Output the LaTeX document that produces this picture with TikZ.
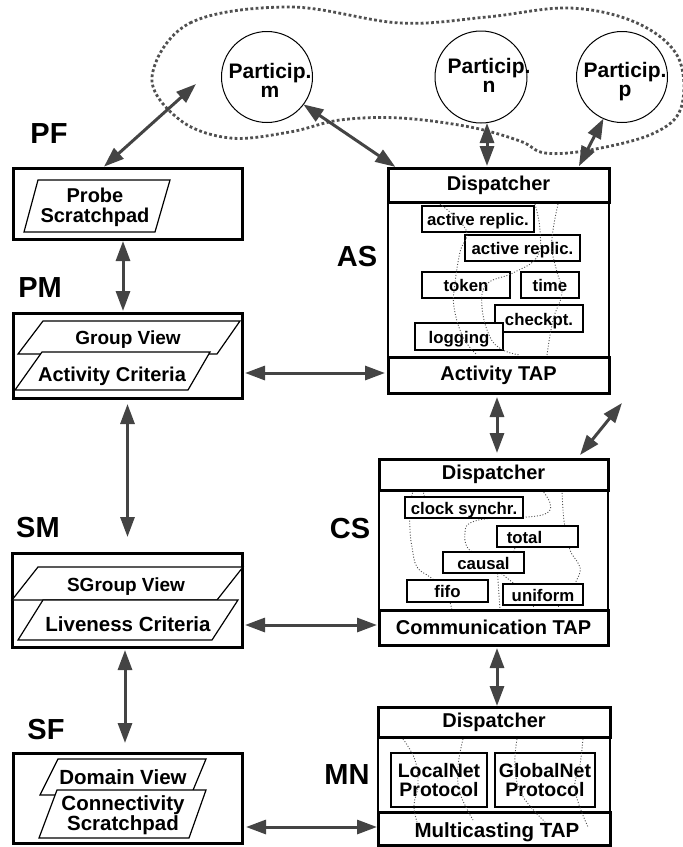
\documentclass[tikz,border=0pt]{standalone}
\usepackage{fontspec}
\setmainfont{Liberation Sans}
\usetikzlibrary{arrows.meta}
\definecolor{arrowgray}{HTML}{444444}
\definecolor{dotgray}{HTML}{505050}
\newcommand\fsz[2]{\fontsize{#1pt}{#2pt}\selectfont}

\begin{document}
\begin{tikzpicture}[x=1pt, y=-1pt,
  every node/.style={font=\bfseries, inner sep=0pt, outer sep=0pt},
  heavybox/.style={draw, rectangle, line width=3pt, fill=white, font=\bfseries\fsz{20}{20}},
  frame/.style={draw, rectangle, line width=1.2pt},
  cell/.style={draw, rectangle, line width=1.4pt, fill=white, font=\bfseries\fsz{16.8}{16.8}, text height=13.5pt, text depth=0pt},
  celltext/.style={font=\bfseries\fsz{16.8}{16.8}, text height=13.5pt, text depth=0pt},
  protobox/.style={draw, rectangle, line width=1.4pt, fill=white, align=center, font=\bfseries\fsz{19.5}{19}},
  member/.style={draw, circle, line width=1pt},
  membertext/.style={align=center, font=\bfseries\fsz{21}{21}},
  layerlabel/.style={font=\bfseries\fsz{29}{29}},
  sheet/.style={draw, line width=1.2pt, fill=white},
  dbl/.style={<->, >={Triangle[length=20pt,width=14pt]}, line width=3pt, draw=arrowgray},
  trail/.style={draw=dotgray, line width=0.9pt, dash pattern=on 1pt off 1.8pt},
  cloudline/.style={draw=dotgray, line width=2.8pt, dash pattern=on 2.8pt off 2.4pt},
]
\useasboundingbox (0,0) rectangle (683,847);

% group of participants
\draw[cloudline] plot[smooth cycle, tension=0.6] coordinates {
  (152,77) (190,23) (290,7) (400,23) (487,17) (570,8) (637,23) (678,57)
  (681,108) (652,134) (590,150) (545,153) (520,141) (470,127) (400,118)
  (340,120) (290,132) (230,138) (180,120)};

\node[member, minimum size=91pt] (cm) at (267,77) {};
\node[member, minimum size=92pt] (cn) at (481,77) {};
\node[member, minimum size=91pt] (cp) at (622,77) {};
\node[membertext] (cmt) at (270,80) {Particip.\\[-2pt]m};
\node[membertext] (cnt) at (489,75) {Particip.\\[-2pt]n};
\node[membertext] (cpt) at (625,82) {Particip.\\[-2pt]p};

% layer labels
\node[layerlabel] (lpf) at (49,134) {PF};
\node[layerlabel] (lpm) at (40,288) {PM};
\node[layerlabel] (lsm) at (38,528) {SM};
\node[layerlabel] (lsf) at (46,730) {SF};
\node[layerlabel] (las) at (357,257) {AS};
\node[layerlabel] (lcs) at (350,529) {CS};
\node[layerlabel] (lmn) at (347,775) {MN};

% left column
\node[heavybox, minimum width=229pt, minimum height=71pt] (pf) at (127.5,203.5) {};
\draw[sheet] (38,180) -- (170,180) -- (155,232) -- (24,232) -- cycle;
\node[align=center, font=\bfseries\fsz{20}{20}] (pft) at (95,207) {Probe\\Scratchpad};

\node[heavybox, minimum width=229pt, minimum height=85pt] (pm) at (127.5,355.5) {};
\draw[sheet] (43,321) -- (240,321) -- (217,354) -- (18,354) -- cycle;
\draw[sheet] (42,352) -- (210,352) -- (188,390) -- (15,390) -- cycle;
\node[font=\bfseries\fsz{19}{19}] (gvt) at (128,340) {Group View};
\node[font=\bfseries\fsz{20}{20}] (act) at (112,376.5) {Activity Criteria};

\node[heavybox, minimum width=230pt, minimum height=94pt] (sm) at (127,600) {};
\draw[sheet] (38,567) -- (243,567) -- (217,600) -- (12,600) -- cycle;
\draw[sheet] (43,600) -- (238,600) -- (212,640) -- (18,640) -- cycle;
\node[font=\bfseries\fsz{19}{19}] (sgvt) at (126,587) {SGroup View};
\node[font=\bfseries\fsz{20.5}{20.5}] (lct) at (128,624.5) {Liveness Criteria};

\node[heavybox, minimum width=229pt, minimum height=90pt] (sf) at (127.5,798) {};
\draw[sheet] (58,759) -- (206,759) -- (191,795) -- (40,795) -- cycle;
\draw[sheet] (57,790) -- (206,790) -- (189,838) -- (39,838) -- cycle;
\node[font=\bfseries\fsz{20.5}{20.5}] (dvt) at (123,777.5) {Domain View};
\node[align=center, font=\bfseries\fsz{20.5}{18}] (cst2) at (123,815.5) {Connectivity\\Scratchpad};

% AS block
\node[frame, minimum width=221pt, minimum height=155pt] (asb) at (498.5,279.5) {};
\node[cell, minimum width=112pt, minimum height=26pt] (ar1) at (478,219) {active replic.};
\node[cell, minimum width=115pt, minimum height=26pt] (ar2) at (522.5,248) {active replic.};
\node[cell, minimum width=88pt, minimum height=26pt] (tok) at (466,285) {token};
\node[cell, minimum width=58pt, minimum height=26pt] (tim) at (550,285) {time};
\node[cell, minimum width=88pt, minimum height=27pt] (chk) at (539,318.5) {checkpt.};
\node[cell, minimum width=88pt, minimum height=27pt] (log) at (459,336.5) {logging};
\node[heavybox, minimum width=221pt, minimum height=34pt] (asd) at (498.5,185) {Dispatcher};
\node[heavybox, minimum width=221pt, minimum height=36pt] (ast) at (498.5,375) {Activity TAP};
\draw[trail] plot[smooth, tension=0.7] coordinates {(440,204) (466,230) (460,252) (455,283) (454,307) (463,337) (477,355)};
\draw[trail] plot[smooth, tension=0.7] coordinates {(535,204) (540,230) (537,257) (513,273) (487,284) (482,307) (490,337) (503,350) (520,355)};
\draw[trail] plot[smooth, tension=0.7] coordinates {(558,204) (553,230) (552,250) (557,272) (562,293) (553,320) (547,355)};

% CS block
\node[frame, minimum width=229pt, minimum height=120pt] (csb) at (493.5,550) {};
\draw[trail] plot[smooth, tension=0.7] coordinates {(413,490) (410,510) (410,530) (412,547) (417,567) (430,577) (445,590) (452,610)};
\draw[trail] (423,490) -- (425,500);
\draw[trail] plot[smooth, tension=0.7] coordinates {(542,490) (550,503) (547,513) (527,517) (493,518) (470,523) (465,533) (467,547) (477,555)};
\draw[trail] plot[smooth, tension=0.7] coordinates {(562,490) (563,510) (565,527) (570,550) (578,563) (580,572) (573,587)};
\draw[trail] (497,565) -- (500,610);
\draw[trail] (497,570) -- (517,586);
\draw[trail] (517,540) -- (513,555);
\draw[trail] (533,595) -- (533,610);
\draw[trail] (558,595) -- (558,610);
\node[cell, minimum width=118pt, minimum height=21pt] (clk) at (464,507.5) {clock synchr.};
\node[cell, minimum width=81pt, minimum height=21pt] (tot) at (537.5,536.5) {};
\node[celltext] (tott) at (524.5,536.5) {total};
\node[cell, minimum width=81pt, minimum height=21pt] (cau) at (483.5,562.5) {causal};
\node[cell, minimum width=81pt, minimum height=22pt] (ffo) at (447.5,591) {fifo};
\node[cell, minimum width=80pt, minimum height=21pt] (uni) at (543,594.5) {uniform};
\node[heavybox, minimum width=229pt, minimum height=31pt] (csd) at (493.5,474.5) {Dispatcher};
\node[heavybox, minimum width=229pt, minimum height=35pt] (cst) at (493.5,627.5) {Communication TAP};

% MN block
\node[frame, minimum width=232pt, minimum height=75pt] (mnb) at (494,774.5) {};
\node[protobox, minimum width=96pt, minimum height=54pt] (lnp) at (439,780) {LocalNet\\Protocol};
\node[protobox, minimum width=100pt, minimum height=54pt] (gnp) at (545,780) {GlobalNet\\Protocol};
\node[heavybox, minimum width=232pt, minimum height=30pt] (mnd) at (494,722) {Dispatcher};
\node[heavybox, minimum width=232pt, minimum height=33pt] (mnt) at (494,828.5) {};
\node[font=\bfseries\fsz{20.5}{20.5}] (mntt) at (497,832.7) {Multicasting TAP};
\draw[trail] plot[smooth, tension=0.7] coordinates {(403,739) (415,760) (418,785) (414,805) (417,822)};
\draw[trail] plot[smooth, tension=0.7] coordinates {(463,739) (458,767) (460,793) (473,820)};
\draw[trail] plot[smooth, tension=0.7] coordinates {(517,739) (515,767) (522,795) (545,822)};
\draw[trail] plot[smooth, tension=0.7] coordinates {(583,739) (580,765) (575,790) (588,827)};

% free arrow ends
\coordinate (pfend) at (196,84);
\coordinate (dgA) at (580,455);
\coordinate (dgB) at (622,403);

% connectors
\draw[dbl, shorten <=2pt] ([xshift=-25pt]pf.north) -- (pfend);
\draw[dbl, shorten >=2pt] (cm.-37) -- ([xshift=9pt]asd.north west);
\draw[dbl, shorten >=2pt] ([xshift=6pt]cn.south) -- ([xshift=-11.5pt]asd.north);
\draw[dbl, shorten >=2pt] (cp.-114) -- ([xshift=79.5pt]asd.north);
\draw[dbl, shorten <=2pt, shorten >=2pt] ([xshift=-4.5pt]pf.south) -- ([xshift=-4.5pt]pm.north);
\draw[dbl, shorten <=3pt, shorten >=3pt] ([yshift=-17.5pt]pm.east) -- ([yshift=2pt]ast.west);
\draw[dbl, shorten <=6pt, shorten >=16pt] (pm.south) -- (pm.south |- sm.north);
\draw[dbl, shorten <=3pt, shorten >=2pt] ([yshift=-25pt]sm.east) -- ([yshift=2.5pt]cst.west);
\draw[dbl, shorten <=3pt, shorten >=10pt] ([xshift=-2pt]sm.south) -- ([xshift=-2pt]sm.south |- sf.north);
\draw[dbl, shorten <=4pt, shorten >=1pt] ([yshift=-29pt]sf.east) -- ([yshift=1.5pt]mnt.west);
\draw[dbl, shorten <=4pt, shorten >=6pt] ([xshift=-1.5pt]ast.south) -- ([xshift=3.5pt]csd.north);
\draw[dbl] (dgA) -- (dgB);
\draw[dbl, shorten <=3pt, shorten >=1pt] ([xshift=3.5pt]cst.south) -- ([xshift=3pt]mnd.north);
\end{tikzpicture}
\end{document}
